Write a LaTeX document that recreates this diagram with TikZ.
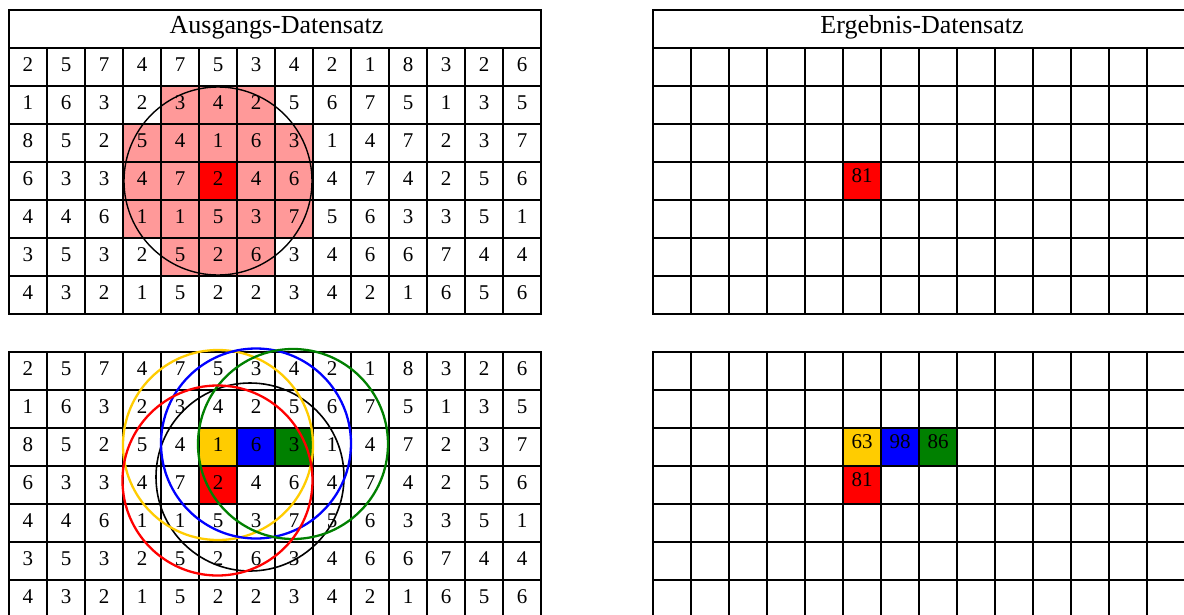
\documentclass[tikz,border=0pt]{standalone}
\usepackage{fontspec}
\setmainfont{Liberation Serif}
\definecolor{pinkc}{HTML}{FF9999}
\definecolor{redc}{HTML}{FF0000}
\definecolor{yellowc}{HTML}{FFCC00}
\definecolor{bluec}{HTML}{0000FF}
\definecolor{greenc}{HTML}{008000}
\tikzset{
  gridline/.style={line width=2.1pt, line cap=rect, draw=black},
  digit/.style={anchor=base, inner sep=0pt, font=\fontsize{21}{24}\selectfont},
  res/.style={anchor=base, inner sep=0pt, font=\fontsize{21}{24}\selectfont},
  ttl/.style={anchor=base, inner sep=0pt, font=\fontsize{26}{30}\selectfont},
  thincircle/.style={draw=black, line width=1.4pt},
  colcircle/.style={line width=2.3pt},
}
\begin{document}
\begin{tikzpicture}[x=1pt,y=-1pt]
\useasboundingbox (0,0) rectangle (1184,614);
\clip (0,0) rectangle (1184,614);
\fill[white] (0,0) rectangle (1184,614);
% ---- coloured cells: top left (pink neighbourhood)
\foreach \r/\c in {1/4,1/5,1/6,2/3,2/4,2/5,2/6,2/7,3/3,3/4,3/6,3/7,4/3,4/4,4/5,4/6,4/7,5/4,5/5,5/6}
  \fill[pinkc] ({9+\c*38},{48+\r*38}) rectangle ++(38,38);
\fill[redc] ({9+5*38},{48+3*38}) rectangle ++(38,38);
% top right
\fill[redc] ({653+5*38},{48+3*38}) rectangle ++(38,38);
% bottom left and right
\foreach \x in {9,653}{
  \fill[yellowc] ({\x+5*38},{352+2*38}) rectangle ++(38,38);
  \fill[bluec]   ({\x+6*38},{352+2*38}) rectangle ++(38,38);
  \fill[greenc]  ({\x+7*38},{352+2*38}) rectangle ++(38,38);
  \fill[redc]    ({\x+5*38},{352+3*38}) rectangle ++(38,38);
}
% ---- grid lines
\foreach \x in {9,653}{
  % top grid with title row
  \draw[gridline] (\x,10) rectangle ({\x+532},314);
  \foreach \k in {0,...,6} \draw[gridline] (\x,{48+\k*38}) -- ({\x+532},{48+\k*38});
  \foreach \k in {1,...,13} \draw[gridline] ({\x+\k*38},48) -- ({\x+\k*38},314);
  % bottom grid
  \draw[gridline] (\x,352) rectangle ({\x+532},618);
  \foreach \k in {1,...,6} \draw[gridline] (\x,{352+\k*38}) -- ({\x+532},{352+\k*38});
  \foreach \k in {1,...,13} \draw[gridline] ({\x+\k*38},352) -- ({\x+\k*38},618);
}
% ---- titles
\node[ttl] (titleA) at (276.5,33.3) {Ausgangs-Datensatz};
\node[ttl] (titleB) at (922,33.3) {Ergebnis-Datensatz};
% ---- data digits
\foreach \row [count=\r from 0] in {{2,5,7,4,7,5,3,4,2,1,8,3,2,6},{1,6,3,2,3,4,2,5,6,7,5,1,3,5},{8,5,2,5,4,1,6,3,1,4,7,2,3,7},{6,3,3,4,7,2,4,6,4,7,4,2,5,6},{4,4,6,1,1,5,3,7,5,6,3,3,5,1},{3,5,3,2,5,2,6,3,4,6,6,7,4,4},{4,3,2,1,5,2,2,3,4,2,1,6,5,6}}{
  \foreach \v [count=\c from 0] in \row {
    \node[digit] (A-\r-\c) at ({9+\c*38+19},{48+\r*38+23}) {\v};
    \node[digit] (B-\r-\c) at ({9+\c*38+19},{352+\r*38+23}) {\v};
  }
}
% ---- result numbers
\node[res] (R81a) at ({653+5*38+19},{48+3*38+20.3}) {81};
\node[res] (R63) at ({653+5*38+19},{352+2*38+20.3}) {63};
\node[res] (R98) at ({653+6*38+19},{352+2*38+20.3}) {98};
\node[res] (R86) at ({653+7*38+19},{352+2*38+20.3}) {86};
\node[res] (R81b) at ({653+5*38+19},{352+3*38+20.3}) {81};
% ---- circles
\draw[thincircle] (218,181) circle[radius=94];
\draw[thincircle, line width=1.6pt] (250,477) circle[radius=94];
\draw[colcircle, draw=yellowc] (218,445) circle[radius=95];
\draw[colcircle, draw=bluec] (256,443.5) circle[radius=95];
\draw[colcircle, draw=greenc] (293,444) circle[radius=95];
\draw[colcircle, draw=redc] (217.5,480.5) circle[radius=95];
\end{tikzpicture}
\end{document}
